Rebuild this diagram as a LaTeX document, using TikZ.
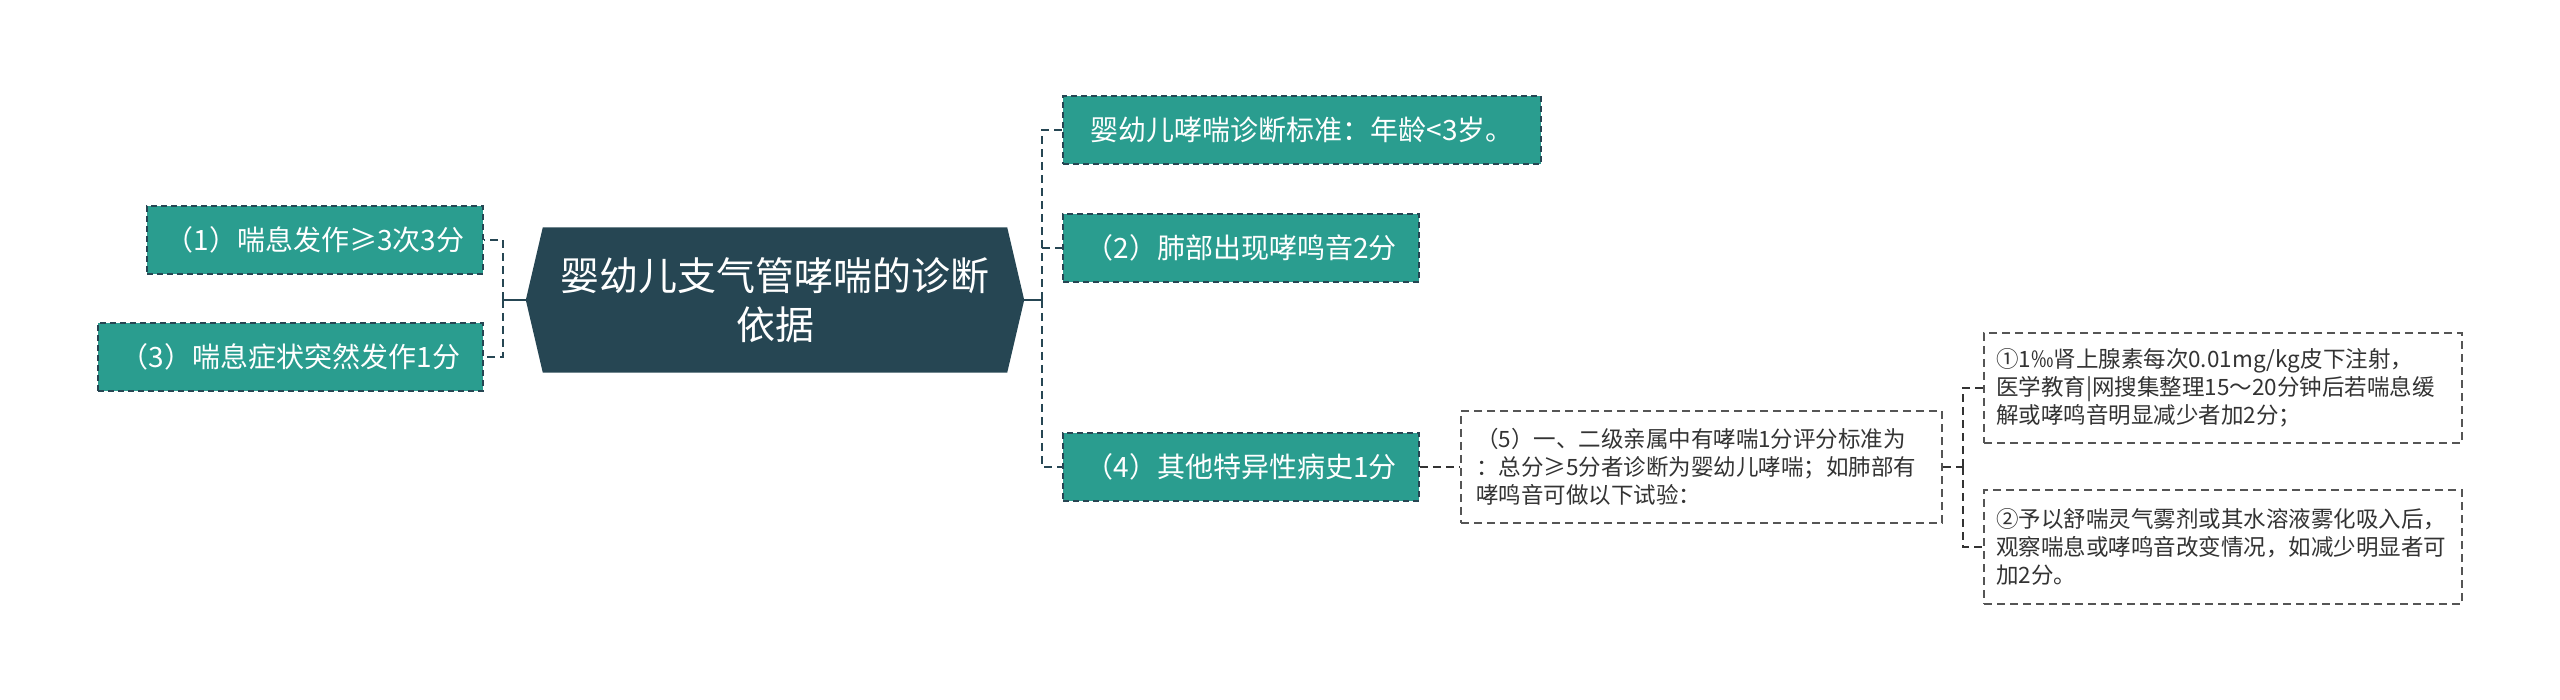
\documentclass[tikz,border=0pt]{standalone}
\usepackage{fontspec}
\setmainfont{Noto Sans CJK SC}
\usetikzlibrary{calc,backgrounds}
\definecolor{darkblue}{HTML}{264653}
\definecolor{mygreen}{HTML}{2A9D8F}
\definecolor{boxgray}{HTML}{555555}
\definecolor{txtgray}{HTML}{333333}
\begin{document}
\begin{tikzpicture}[x=1pt,y=-1pt,
  conn/.style={draw=darkblue,line width=2.5pt},
  dconn/.style={draw=darkblue,line width=2.5pt,dash pattern=on 8pt off 5pt},
  gconn/.style={draw=txtgray,line width=1.6pt,dash pattern=on 8pt off 5pt},
  greenbox/.style={draw=darkblue,line width=1.5pt,dash pattern=on 6pt off 4pt,fill=mygreen,text=white,
    minimum height=68pt,inner sep=0pt,font=\fontsize{28}{34}\selectfont},
  notebox/.style={draw=boxgray,line width=1.6pt,dash pattern=on 8pt off 5pt,fill=white,text=txtgray,
    align=left,inner ysep=0pt,font=\fontsize{22.5}{28}\selectfont},
  central/.style={text=white,align=center,minimum width=498pt,minimum height=145pt,inner sep=0pt,
    font=\fontsize{39}{49}\selectfont}
]
\useasboundingbox (0,0) rectangle (2560,700);

% central node
\node[central] (c) at (775,300) {婴幼儿支气管哮喘的诊断\\依据};
\begin{scope}[on background layer]
\fill[darkblue] (c.west) -- ($(c.north west)+(17,0)$) -- ($(c.north east)+(-17,0)$) -- (c.east)
  -- ($(c.south east)+(-17,0)$) -- ($(c.south west)+(17,0)$) -- cycle;
\end{scope}

% left nodes
\node[greenbox,minimum width=336pt] (l1) at (315,240) {（1）喘息发作≥3次3分};
\node[greenbox,minimum width=385pt] (l3) at (290.5,357) {（3）喘息症状突然发作1分};

% right nodes
\node[greenbox,minimum width=478pt] (r1) at (1302,130) {婴幼儿哮喘诊断标准：年龄<3岁。};
\node[greenbox,minimum width=356pt] (r2) at (1241,248) {（2）肺部出现哮鸣音2分};
\node[greenbox,minimum width=356pt] (r4) at (1241,467) {（4）其他特异性病史1分};

% note nodes
\node[notebox,text width=451pt,inner xsep=15pt,minimum height=112pt] (n5) at (1701.5,467)
  {（5）一、二级亲属中有哮喘1分评分标准为\\：总分≥5分者诊断为婴幼儿哮喘；如肺部有\\哮鸣音可做以下试验：};
\node[notebox,text width=454pt,inner xsep=12pt,minimum height=110pt] (na) at (2223,388)
  {①1‰肾上腺素每次0.01mg/kg皮下注射，\\医学教育|网搜集整理15～20分钟后若喘息缓\\解或哮鸣音明显减少者加2分；};
\node[notebox,text width=454pt,inner xsep=12pt,minimum height=114pt] (nb) at (2223,547)
  {②予以舒喘灵气雾剂或其水溶液雾化吸入后，\\观察喘息或哮鸣音改变情况，如减少明显者可\\加2分。};

% connectors
\coordinate (lj) at (503,300);
\draw[conn] (c.west) -- (lj);
\draw[dconn] (lj) |- (l1.east);
\draw[dconn] (lj) |- (l3.east);

\coordinate (rj) at (1042,300);
\draw[conn] (c.east) -- (rj);
\draw[dconn] (rj) |- (r1.west);
\draw[dconn] (rj) |- (r2.west);
\draw[dconn] (rj) |- (r4.west);

\draw[gconn] (r4.east) -- (n5.west);
\coordinate (nj) at (1963,467);
\draw[gconn] (n5.east) -- (nj);
\draw[gconn] (nj) |- (na.west);
\draw[gconn] (nj) |- (nb.west);
\end{tikzpicture}
\end{document}
